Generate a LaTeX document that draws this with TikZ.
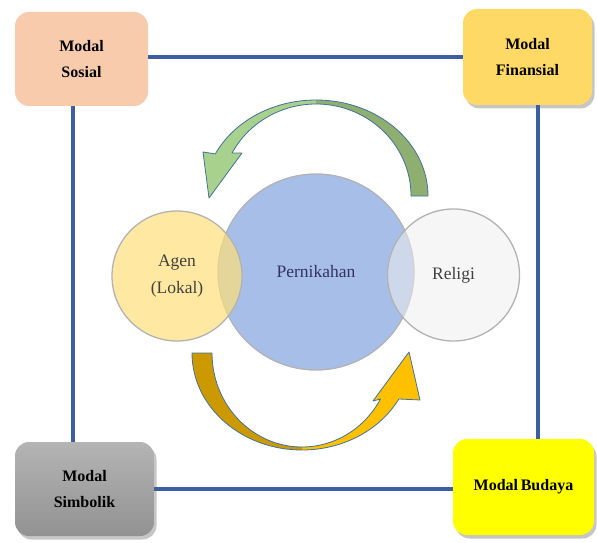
\documentclass[tikz,border=0pt]{standalone}
\usepackage{fontspec}
\setmainfont{Liberation Serif}
\usetikzlibrary{shadows}

\definecolor{linkblue}{HTML}{3B5FA0}
\definecolor{sosialfill}{HTML}{F8CBAD}
\definecolor{finfill}{HTML}{FFD966}
\definecolor{budfill}{HTML}{FFFF00}
\definecolor{simtop}{HTML}{B4B4B4}
\definecolor{simbot}{HTML}{929292}
\definecolor{agenfill}{HTML}{FFE07A}
\definecolor{nikahfill}{HTML}{A7BFE8}
\definecolor{religifill}{HTML}{EEEEEE}
\definecolor{greenlite}{HTML}{A9D18E}
\definecolor{greendark}{HTML}{8FAF70}
\definecolor{golddark}{HTML}{CC9A00}
\definecolor{goldlite}{HTML}{FFC000}
\definecolor{rimblue}{HTML}{41719C}

\tikzset{
  modal/.style={rounded corners=14pt, align=center, inner sep=0pt,
    font=\fontsize{16}{26}\selectfont\bfseries},
  boxshadow/.style={drop shadow={shadow xshift=2.5pt, shadow yshift=-3.5pt, opacity=0.45}},
  link/.style={draw=linkblue, line width=4pt},
  ring/.style={circle, inner sep=0pt, draw=gray!60, line width=1.3pt,
    align=center, font=\fontsize{17.5}{27}\selectfont, text=black!75},
  turn/.style={draw=rimblue, line width=0.8pt, line join=round}
}

\begin{document}
\begin{tikzpicture}[x=1pt, y=1pt]
\useasboundingbox (0,0) rectangle (597,542);

% four corner boxes
\node[modal, fill=sosialfill, minimum width=133pt, minimum height=94pt] (sosial) at (81.5,483) {Modal\\Sosial};
\node[modal, boxshadow, fill=finfill, minimum width=129pt, minimum height=96pt] (finansial) at (527.5,485) {Modal\\Finansial};
\node[modal, boxshadow, top color=simtop, bottom color=simbot, minimum width=139pt, minimum height=94pt] (simbolik) at (84.5,53) {Modal\\Simbolik};
\node[modal, boxshadow, fill=budfill, minimum width=141pt, minimum height=96pt] (budaya) at (523.5,55) {Modal\,Budaya};

% blue frame between the boxes
\draw[link] (finansial.west -| sosial.east) -- (finansial.west);
\draw[link] (simbolik.east) -- (simbolik.east -| budaya.west);
\draw[link] ([xshift=-8.5pt]sosial.south) -- ([xshift=-8.5pt]sosial.south |- simbolik.north);
\draw[link] ([xshift=10.5pt]finansial.south) -- ([xshift=10.5pt]finansial.south |- budaya.north);

% green arrow, right to left over the top
\fill[greendark] (428,346) arc[start angle=0, end angle=90, x radius=112, y radius=96]
  -- (316,438) arc[start angle=90, end angle=0, x radius=95, y radius=92] -- cycle;
\fill[greenlite] (316,442) arc[start angle=90, end angle=154, x radius=112, y radius=96]
  -- (203,390) -- (209,344) -- (242,389) -- (232,388.9)
  arc[start angle=152.2, end angle=90, x radius=95, y radius=92] -- cycle;
\draw[turn] (428,346) arc[start angle=0, end angle=154, x radius=112, y radius=96]
  -- (203,390) -- (209,344) -- (242,389) -- (232,388.9)
  arc[start angle=152.2, end angle=0, x radius=95, y radius=92] -- cycle;

% gold arrow, left to right under the bottom
\fill[golddark] (192,189) arc[start angle=180, end angle=270, x radius=110, y radius=97]
  -- (302,95) arc[start angle=270, end angle=180, x radius=90, y radius=94] -- cycle;
\fill[goldlite] (302,92) arc[start angle=270, end angle=331.7, x radius=110, y radius=97]
  -- (420,142) -- (409,190) -- (373,141) -- (380.5,143)
  arc[start angle=330.7, end angle=270, x radius=90, y radius=94] -- cycle;
\draw[turn] (192,189) arc[start angle=180, end angle=331.7, x radius=110, y radius=97]
  -- (420,142) -- (409,190) -- (373,141) -- (380.5,143)
  arc[start angle=330.7, end angle=180, x radius=90, y radius=94] -- cycle;

% the three circles
\node[ring, fill=nikahfill, minimum size=196pt, text=black!70!blue!60!gray] (nikah) at (316,270) {Pernikahan};
\node[ring, fill=agenfill, fill opacity=0.7, text opacity=1, minimum size=130pt] (agen) at (177,266) {Agen\\(Lokal)};
\node[ring, fill=religifill, fill opacity=0.55, text opacity=1, minimum size=132pt] (religi) at (453.5,267) {Religi};

\end{tikzpicture}
\end{document}
